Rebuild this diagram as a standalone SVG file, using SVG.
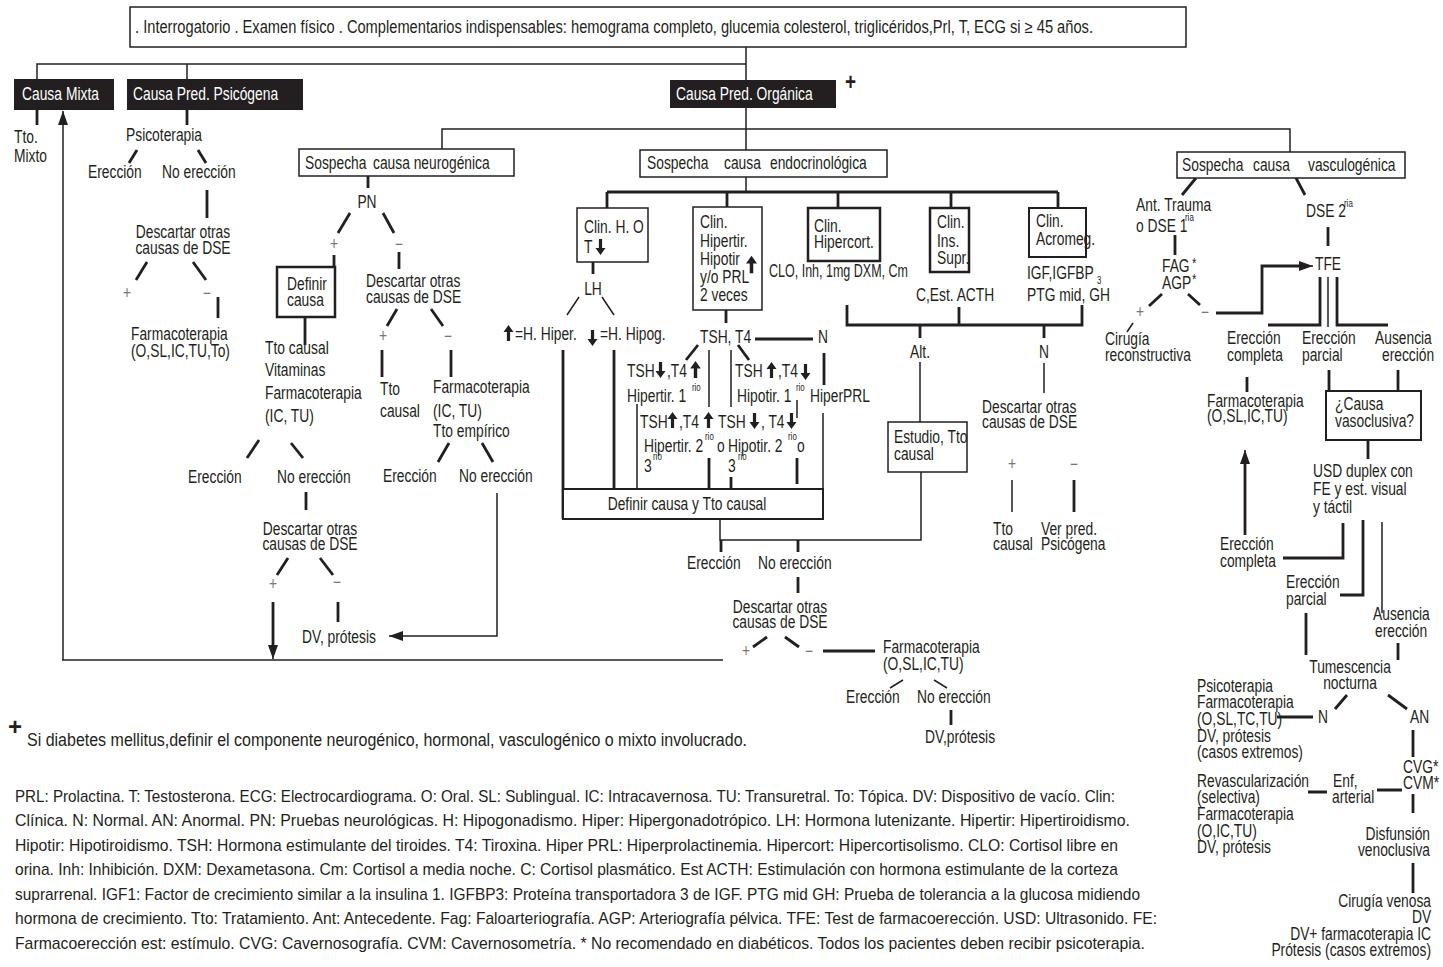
<svg xmlns="http://www.w3.org/2000/svg" width="1443" height="967" viewBox="0 0 1443 967">
<style>
text{font-family:"Liberation Sans",Arial,sans-serif;font-size:17.5px;fill:#231f20;transform:scaleX(0.79);transform-box:fill-box;transform-origin:0 0}
.c{text-anchor:middle;transform-origin:50% 0}
.e{text-anchor:end;transform-origin:100% 0}
.nt{transform:none}
.w{fill:#fff}
.s{font-size:10px}
.g{fill:#777}
.box{fill:#fff;stroke:#231f20;stroke-width:1.5}
.bb{fill:#fff;stroke:#231f20;stroke-width:2.5}
.bk{fill:#231f20}
.l{fill:none;stroke:#231f20;stroke-width:1.5}
.k{fill:none;stroke:#231f20;stroke-width:2.8}
.lg{font-size:17px;font-family:"Liberation Sans",Arial,sans-serif}
</style>
<defs>
<marker id="ah" viewBox="0 0 14 10" refX="14" refY="5" markerWidth="14" markerHeight="10" markerUnits="userSpaceOnUse" orient="auto"><path d="M0,0 L14,5 L0,10 Z" fill="#231f20"/></marker>
<symbol id="au" viewBox="0 0 10 16"><path d="M5,0 L10,7 L6.6,7 L6.6,16 L3.4,16 L3.4,7 L0,7 Z" fill="#231f20"/></symbol>
<symbol id="ad" viewBox="0 0 10 16"><path d="M5,16 L10,9 L6.6,9 L6.6,0 L3.4,0 L3.4,9 L0,9 Z" fill="#231f20"/></symbol>
</defs>
<rect width="1443" height="967" fill="#fff"/>

<g id="connectors">
<path class="l" d="M37,79 V64 H746 M187,64 V79 M746,47 V80"/>
<path class="k" d="M37,110 V125 M187,110 V125"/>
<path class="k" d="M137,150 L129,163 M198,150 L206,163 M207,190 V218 M147,262 L136,280 M193,262 L206,280 M218,297 V318"/>
<path class="l" d="M63,660 V111" marker-end="url(#ah)"/>
<path class="l" d="M62,660 H723"/>
<path class="l" d="M746,108 V150 M746,177 V192 M442,149 V129 H1290 V152"/>
<path class="k" d="M368,176 V188 M350,213 L338,233 M383,213 L394,233 M334,255 V267 M305,317 V345 M399,252 V269 M397,309 L387,326 M431,309 L443,326 M382,350 V377 M451,350 V377 M449,443 L438,462 M482,443 L493,462 M259,440 L247,458 M291,443 L303,458 M306,492 V510 M288,558 L277,575 M320,558 L333,575 M338,602 V622"/>
<path class="l" d="M497,493 V636 H389" marker-end="url(#ah)"/>
<path class="k" d="M273,602 V645"/>
<path class="l" d="M273,640 V659" marker-end="url(#ah)"/>
<path class="k" d="M607,192 H1058 M607,192 V208 M727,192 V207 M838,192 V209 M951,192 V208 M1058,192 V208 M593,262 V274"/>
<path class="l" d="M579,297 L567,315 M602,297 L614,315"/>
<path class="k" d="M563,350 V519 M614,350 V489 M726,310 V323 M698,345 L686,360 M738,345 L749,360 M755,339 H813 M824,353 V385"/>
<path class="l" d="M709,350 V407 M731,350 V407 M637,404 V489 M797,400 V418 M823,413 V489"/>
<path class="k" d="M709,458 V489 M731,477 V489 M797,458 V484"/>
<path class="l" d="M720,519 V540 H921 V472"/>
<path class="k" d="M721,540 V552 M798,540 V552 M798,577 V593 M767,637 L753,647 M785,637 L799,647 M823,651 H875 M951,710 V725"/>
<path class="l" d="M903,680 L890,688 M934,680 L947,688"/>
<path class="k" d="M847,305 V325 H1082 V305 M959,307 V325 M920,325 V338 M1044,325 V338"/>
<path class="l" d="M920,362 V422 M1044,363 V393 M1012,480 V512"/>
<path class="k" d="M1074,480 V512"/>
<path class="k" d="M1196,178 L1182,195 M1296,178 L1305,195 M1175,235 V255 M1328,227 V246 M1162,294 L1149,306 M1188,294 L1200,305"/>
<path class="l" d="M1133,323 L1127,332"/>
<path class="k" d="M1216,313 H1262 V266 H1300"/>
<path class="l" d="M1295,266 H1313" marker-end="url(#ah)"/>
<path class="k" d="M1320,277 V325 H1268 M1337,277 V325 H1388"/>
<path class="l" d="M1328,277 V327"/>
<path class="k" d="M1247,377 V392 M1329,370 V391 M1398,370 V391 M1368,440 V459"/>
<path class="k" d="M1245,535 V462"/>
<path class="l" d="M1245,470 V450" marker-end="url(#ah)"/>
<path class="k" d="M1343,523 V558 H1283 M1363,520 V595 H1340"/>
<path class="l" d="M1382,522 V613"/>
<path class="k" d="M1306,613 V655 M1398,643 V660 M1347,695 L1335,709 M1388,695 L1407,709 M1277,717 H1313 M1413,730 V757 M1377,790 H1402 M1308,792 H1327 M1413,794 V813 M1413,863 V893"/>
</g>

<g id="header"><rect class="box" x="130" y="7" width="1056" height="40"/>
<text class="nt" x="135" y="33" textLength="958" lengthAdjust="spacingAndGlyphs">. Interrogatorio . Examen físico . Complementarios indispensables: hemograma completo, glucemia colesterol, triglicéridos,Prl, T, ECG si ≥ 45 años.</text></g>

<g id="causa-mixta"><rect class="bk" x="14" y="79" width="100" height="31"/><text class="w" x="22" y="100">Causa</text><text class="w" x="66" y="100">Mixta</text>
<text x="14" y="143">Tto.</text><text x="14" y="162">Mixto</text></g>

<g id="causa-psicogena"><rect class="bk" x="127" y="79" width="176" height="31"/><text class="w" x="133" y="100">Causa Pred. Psicógena</text>
<text class="c" x="164" y="141">Psicoterapia</text>
<text x="88" y="178">Erección</text><text x="162" y="178">No erección</text>
<text class="c" x="183" y="238">Descartar otras</text><text class="c" x="183" y="254">causas de DSE</text>
<text class="c g" x="127" y="299">+</text><text class="c g" x="207" y="299">−</text>
<text x="131" y="340">Farmacoterapia</text><text x="131" y="357">(O,SL,IC,TU,To)</text></g>

<g id="causa-organica"><rect class="bk" x="670" y="80" width="166" height="28"/><text class="w" x="676" y="100">Causa Pred. Orgánica</text>
<text x="845" y="90" style="font-size:24px;font-weight:bold">+</text></g>

<g id="neurogenica"><rect class="box" x="299" y="149" width="215" height="27"/><text x="305" y="169">Sospecha</text><text x="373" y="169">causa neurogénica</text>
<text class="c" x="367" y="208">PN</text>
<text class="c g" x="334" y="250">+</text><text class="c g" x="399" y="250">−</text>
<rect class="bb" x="277" y="267" width="58" height="50"/><text x="287" y="290">Definir</text><text x="287" y="306">causa</text>
<text x="265" y="354">Tto causal</text><text x="265" y="376">Vitaminas</text><text x="265" y="399">Farmacoterapia</text><text x="265" y="422">(IC, TU)</text>
<text x="188" y="483">Erección</text><text x="277" y="483">No erección</text>
<text class="c" x="310" y="535">Descartar otras</text><text class="c" x="310" y="550">causas de DSE</text>
<text class="c g" x="273" y="590">+</text><text class="c g" x="337" y="588">−</text>
<text x="302" y="643">DV, prótesis</text>
<text x="366" y="287">Descartar otras</text><text x="366" y="303">causas de DSE</text>
<text class="c g" x="383" y="342">+</text><text class="c g" x="448" y="342">−</text>
<text x="380" y="395">Tto</text><text x="380" y="417">causal</text>
<text x="433" y="393">Farmacoterapia</text><text x="433" y="417">(IC, TU)</text><text x="433" y="437">Tto empírico</text>
<text x="383" y="482">Erección</text><text x="459" y="482">No erección</text></g>

<g id="endocrinologica"><rect class="box" x="640" y="150" width="247" height="27"/><text x="647" y="169">Sospecha</text><text x="724" y="169">causa</text><text x="770" y="169">endocrinológica</text>
<rect class="box" x="577" y="208" width="71" height="54"/><text x="584" y="233">Clin. H. O</text><text x="584" y="253">T</text><use href="#ad" x="595" y="239" width="11" height="16"/>
<text class="c" x="593" y="295">LH</text>
<use href="#au" x="503" y="325" width="11" height="16"/><text x="515" y="340">=H. Hiper.</text>
<use href="#ad" x="587" y="330" width="11" height="16"/><text x="600" y="340">=H. Hipog.</text>
<rect class="box" x="693" y="207" width="69" height="103"/>
<text x="700" y="228">Clin.</text><text x="700" y="247">Hipertir.</text><text x="700" y="265">Hipotir</text><use href="#au" x="746" y="254" width="11" height="21"/><text x="700" y="283">y/o PRL</text><text x="700" y="301">2 veces</text>
<text x="700" y="343">TSH, T4</text><text x="818" y="343">N</text>
<text x="627" y="377">TSH</text><use href="#ad" x="655" y="362" width="11" height="16"/><text x="667" y="377">,T4</text><use href="#au" x="690" y="361" width="11" height="17"/>
<text x="627" y="402">Hipertir. 1</text><text class="s" x="692" y="391">rio</text>
<text x="735" y="377">TSH</text><use href="#au" x="766" y="362" width="11" height="16"/><text x="778" y="377">,T4</text><use href="#ad" x="800" y="364" width="11" height="16"/>
<text x="737" y="402">Hipotir. 1</text><text class="s" x="796" y="391">rio</text>
<text x="810" y="402">HiperPRL</text>
<text x="640" y="428">TSH</text><use href="#au" x="667" y="412" width="11" height="16"/><text x="679" y="428">,T4</text><use href="#au" x="703" y="412" width="11" height="16"/>
<text x="718" y="428">TSH</text><use href="#ad" x="749" y="413" width="11" height="16"/><text x="761" y="428">, T4</text><use href="#ad" x="786" y="413" width="11" height="16"/>
<text x="644" y="452">Hipertir. 2</text><text class="s" x="705" y="440">rio</text><text x="717" y="452">o</text>
<text x="728" y="452">Hipotir. 2</text><text class="s" x="788" y="440">rio</text><text x="797" y="452">o</text>
<text x="644" y="472">3</text><text class="s" x="653" y="460">rio</text>
<text x="728" y="472">3</text><text class="s" x="738" y="460">rio</text>
<rect class="box" x="563" y="489" width="260" height="30" style="stroke-width:2"/><text class="c" x="687" y="510">Definir causa y Tto causal</text>
<rect class="bb" x="808" y="208" width="72" height="53"/><text x="814" y="232">Clin.</text><text x="814" y="248">Hipercort.</text>
<text class="nt" x="769" y="277" textLength="139" lengthAdjust="spacingAndGlyphs">CLO, Inh, 1mg DXM, Cm</text>
<rect class="bb" x="930" y="208" width="39" height="64"/><text x="937" y="228">Clin.</text><text x="937" y="247">Ins.</text><text x="937" y="264">Supr.</text>
<rect class="box" x="1029" y="208" width="57" height="49" style="stroke-width:2"/><text x="1036" y="227">Clin.</text><text x="1036" y="245">Acromeg.</text>
<text x="1027" y="279">IGF,IGFBP</text><text class="s" x="1097" y="284">3</text><text x="1027" y="301">PTG mid, GH</text>
<text x="916" y="301">C,Est. ACTH</text>
<text class="c" x="920" y="358">Alt.</text><text class="c" x="1044" y="358">N</text>
<rect class="box" x="888" y="422" width="79" height="50"/><text x="894" y="443">Estudio, Tto</text><text x="894" y="460">causal</text>
<text x="982" y="413">Descartar otras</text><text x="982" y="428">causas de DSE</text>
<text class="c g" x="1012" y="470">+</text><text class="c g" x="1074" y="470">−</text>
<text x="993" y="535">Tto</text><text x="993" y="550">causal</text>
<text x="1041" y="535">Ver pred.</text><text x="1041" y="550">Psicógena</text>
<text x="687" y="569">Erección</text><text x="758" y="569">No erección</text>
<text class="c" x="780" y="613">Descartar otras</text><text class="c" x="780" y="628">causas de DSE</text>
<text class="c g" x="746" y="657">+</text><text class="c g" x="809" y="657">−</text>
<text x="883" y="653">Farmacoterapia</text><text x="883" y="670">(O,SL,IC,TU)</text>
<text x="846" y="703">Erección</text><text x="917" y="703">No erección</text>
<text x="925" y="743">DV,prótesis</text></g>

<g id="vasculogenica"><rect class="box" x="1177" y="152" width="228" height="26"/><text x="1182" y="171">Sospecha</text><text x="1253" y="171">causa</text><text x="1308" y="171">vasculogénica</text>
<text x="1136" y="211">Ant. Trauma</text><text x="1136" y="232">o DSE 1</text><text class="s" x="1185" y="221">ria</text>
<text x="1306" y="217">DSE 2</text><text class="s" x="1344" y="207">ria</text>
<text x="1162" y="272">FAG</text><text x="1192" y="268" style="font-size:14px">*</text><text x="1162" y="289">AGP</text><text x="1192" y="284" style="font-size:14px">*</text>
<text class="c g" x="1140" y="318">+</text><text class="c g" x="1205" y="318">−</text>
<text x="1105" y="345">Cirugía</text><text x="1105" y="361">reconstructiva</text>
<text x="1315" y="270">TFE</text>
<text x="1227" y="344">Erección</text><text x="1227" y="361">completa</text>
<text x="1302" y="344">Erección</text><text x="1302" y="361">parcial</text>
<text x="1375" y="344">Ausencia</text><text x="1382" y="361">erección</text>
<text x="1207" y="407">Farmacoterapia</text><text x="1207" y="422">(O,SL,IC,TU)</text>
<rect class="box" x="1326" y="391" width="95" height="49" style="stroke-width:2"/><text x="1335" y="410">¿Causa</text><text x="1335" y="427">vasoclusiva?</text>
<text x="1313" y="477">USD duplex con</text><text x="1313" y="495">FE y est. visual</text><text x="1313" y="513">y táctil</text>
<text x="1220" y="550">Erección</text><text x="1220" y="567">completa</text>
<text x="1286" y="588">Erección</text><text x="1286" y="605">parcial</text>
<text x="1373" y="620">Ausencia</text><text x="1375" y="637">erección</text>
<text class="c" x="1350" y="673">Tumescencia</text><text class="c" x="1350" y="689">nocturna</text>
<text x="1318" y="723">N</text><text x="1410" y="723">AN</text>
<text x="1197" y="692">Psicoterapia</text><text x="1197" y="708">Farmacoterapia</text><text x="1197" y="725">(O,SL,TC,TU)</text><text x="1197" y="742">DV, prótesis</text><text x="1197" y="758">(casos extremos)</text>
<text x="1403" y="773">CVG*</text><text x="1403" y="789">CVM*</text>
<text x="1333" y="787">Enf,</text><text x="1332" y="803">arterial</text>
<text x="1197" y="787">Revascularización</text><text x="1197" y="803">(selectiva)</text><text x="1197" y="820">Farmacoterapia</text><text x="1197" y="837">(O,IC,TU)</text><text x="1197" y="853">DV, prótesis</text>
<text class="e" x="1430" y="840">Disfunsión</text><text class="e" x="1430" y="856">venoclusiva</text>
<text class="e" x="1431" y="907">Cirugía venosa</text><text class="e" x="1431" y="923">DV</text><text class="e" x="1431" y="940">DV+ farmacoterapia IC</text><text class="e" x="1431" y="956">Prótesis (casos extremos)</text></g>

<g id="notes">
<text class="nt" x="8" y="735" style="font-size:24px;font-weight:bold">+</text>
<text class="nt" x="27" y="746" textLength="720" lengthAdjust="spacingAndGlyphs">Si diabetes mellitus,definir el componente neurogénico, hormonal, vasculogénico o mixto involucrado.</text>
<text class="nt lg" x="15" y="802" textLength="1100" lengthAdjust="spacingAndGlyphs">PRL: Prolactina. T: Testosterona. ECG: Electrocardiograma. O: Oral. SL: Sublingual. IC: Intracavernosa. TU: Transuretral. To: Tópica. DV: Dispositivo de vacío. Clin:</text>
<text class="nt lg" x="15" y="826" textLength="1115" lengthAdjust="spacingAndGlyphs">Clínica. N: Normal. AN: Anormal. PN: Pruebas neurológicas. H: Hipogonadismo. Hiper: Hipergonadotrópico. LH: Hormona lutenizante. Hipertir: Hipertiroidismo.</text>
<text class="nt lg" x="15" y="851" textLength="1103" lengthAdjust="spacingAndGlyphs">Hipotir: Hipotiroidismo. TSH: Hormona estimulante del tiroides. T4: Tiroxina. Hiper PRL: Hiperprolactinemia. Hipercort: Hipercortisolismo. CLO: Cortisol libre en</text>
<text class="nt lg" x="15" y="875" textLength="1103" lengthAdjust="spacingAndGlyphs">orina. Inh: Inhibición. DXM: Dexametasona. Cm: Cortisol a media noche. C: Cortisol plasmático. Est ACTH: Estimulación con hormona estimulante de la corteza</text>
<text class="nt lg" x="15" y="900" textLength="1125" lengthAdjust="spacingAndGlyphs">suprarrenal. IGF1: Factor de crecimiento similar a la insulina 1. IGFBP3: Proteína transportadora 3 de IGF. PTG mid GH: Prueba de tolerancia a la glucosa midiendo</text>
<text class="nt lg" x="15" y="924" textLength="1142" lengthAdjust="spacingAndGlyphs">hormona de crecimiento. Tto: Tratamiento. Ant: Antecedente. Fag: Faloarteriografía. AGP: Arteriografía pélvica. TFE: Test de farmacoerección. USD: Ultrasonido. FE:</text>
<text class="nt lg" x="15" y="949" textLength="1130" lengthAdjust="spacingAndGlyphs">Farmacoerección est: estímulo. CVG: Cavernosografía. CVM: Cavernosometría. * No recomendado en diabéticos. Todos los pacientes deben recibir psicoterapia.</text>
</g>
</svg>
